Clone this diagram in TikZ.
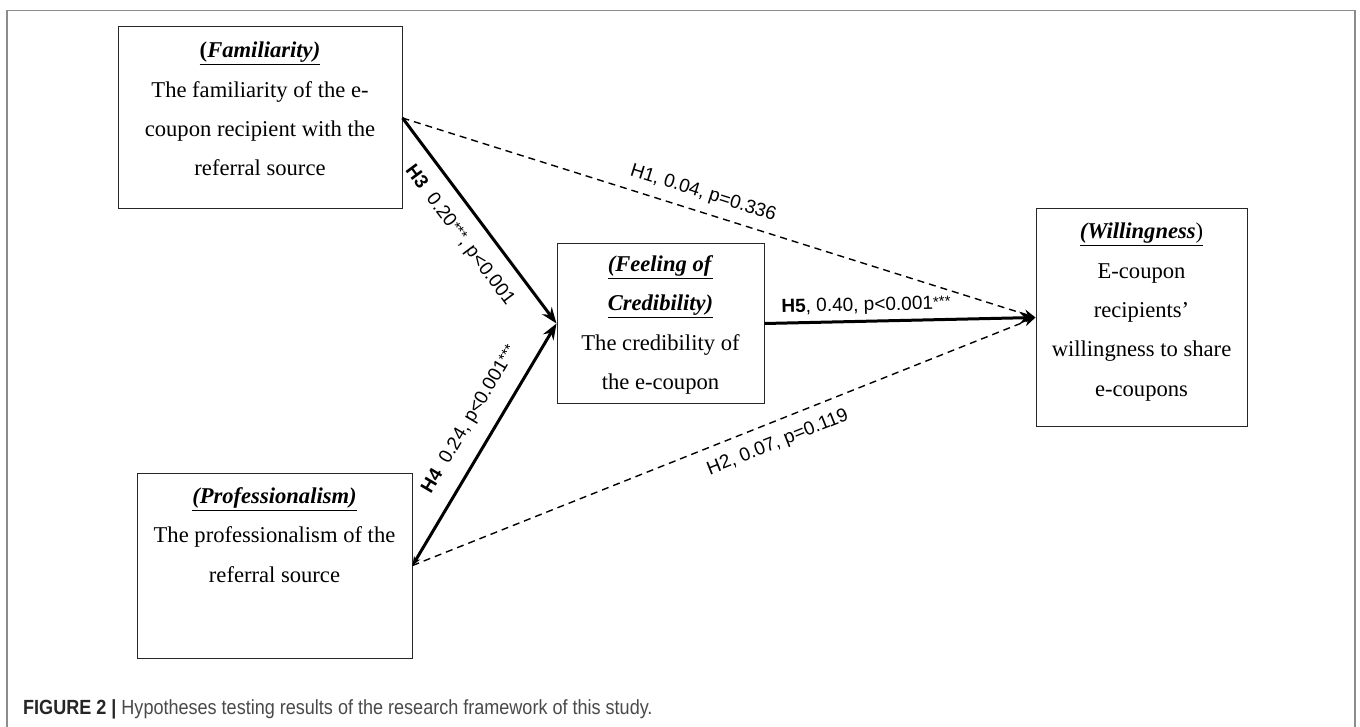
\documentclass[tikz,border=0pt]{standalone}
\usepackage{fontspec}
\setmainfont{Liberation Serif}
\setsansfont{Liberation Sans}
\newfontfamily\capfont[FakeStretch=0.88]{Liberation Sans}
\usetikzlibrary{arrows.meta}
\definecolor{framegray}{HTML}{8C8C8C}
\definecolor{capgray}{HTML}{4A4A4A}
\tikzset{
  boxnode/.style={draw=black!85, line width=1pt, rectangle, inner sep=0pt},
  boxtext/.style={align=center, inner sep=0pt, font=\fontsize{22.6}{39.3}\selectfont},
  strong/.style={line width=3pt, -{Stealth[length=16pt,width=12pt]}},
  weak/.style={line width=1.4pt, dash pattern=on 7pt off 5pt, -{Stealth[length=12pt,width=9pt]}},
  lbl/.style={inner sep=0pt, sloped, font=\sffamily\fontsize{19}{22}\selectfont}
}
\newcommand{\ttl}[1]{\underline{\textbf{\textit{#1}}}}
\newcommand{\stars}{\raisebox{0.12em}{\fontsize{15}{15}\selectfont ***}}
\begin{document}
\begin{tikzpicture}[x=1pt,y=-1pt]
\useasboundingbox (0,0) rectangle (1360,727);
\fill[white] (0,0) rectangle (1360,727);
\draw[framegray, line width=1.5pt] (7,727) -- (7,10.5) -- (1355,10.5) -- (1355,727);

% boxes
\node[boxnode, minimum width=284, minimum height=182] (fam) at (260,118) {};
\node[boxnode, minimum width=207, minimum height=159] (cred) at (660.5,323.5) {};
\node[boxnode, minimum width=211, minimum height=217] (will) at (1141.5,317.5) {};
\node[boxnode, minimum width=275, minimum height=185] (prof) at (274.5,565.5) {};

% texts
\node[boxtext] (famtxt) at (260,109) {\underline{\textbf{(}\textbf{\textit{Familiarity)}}}\\The familiarity of the e-\\coupon recipient with the\\referral source};
\node[boxtext] (credtxt) at (660.5,325) {\ttl{(Feeling of}\\\ttl{Credibility)}\\The credibility of\\the e-coupon};
\node[boxtext] (willtxt) at (1141.5,312) {\underline{\textbf{\textit{(Willingness}})}\\E-coupon\\recipients’\\willingness to share\\e-coupons};
\node[boxtext] (proftxt) at (274.5,535) {\ttl{(Professionalism)}\\The professionalism of the\\referral source};

% connectors
\draw[weak] (fam.east) -- (will.west)
  node[lbl, pos=0.466, above=9pt] (h1) {H1, 0.04, p=0.336};
\draw[weak] (prof.east) -- (will.west)
  node[lbl, pos=0.574, below=12pt] (h2) {H2, 0.07, p=0.119};
\draw[strong] (fam.east) -- (cred.west)
  node[lbl, pos=0.5, below=15pt] (h3) {\textbf{H3} \ 0.20\stars, p<0.001};
\draw[line width=3pt, {Stealth[length=9pt,width=7pt]}-{Stealth[length=16pt,width=12pt]}] (prof.east) -- (cred.west)
  node[lbl, pos=0.55, above=15pt] (h4) {\textbf{H4} \ 0.24, p<0.001\stars};
\draw[strong] (cred.east) -- (will.west)
  node[lbl, pos=0.376, above=5pt] (h5) {\textbf{H5}, 0.40, p<0.001\stars};

% caption
\node[anchor=base west, inner sep=0pt, font=\capfont\fontsize{20.5}{22}\selectfont] (cap) at (23,714)
  {\textcolor{black!85}{\textbf{FIGURE 2 |}} \textcolor{capgray}{Hypotheses testing results of the research framework of this study.}};
\end{tikzpicture}
\end{document}
